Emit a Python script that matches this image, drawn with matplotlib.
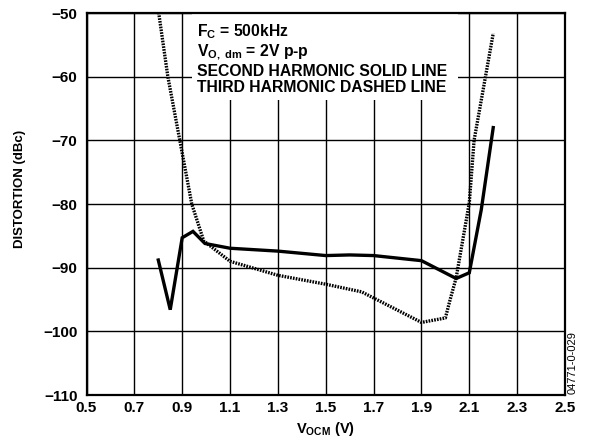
import matplotlib
matplotlib.use("Agg")
import matplotlib.pyplot as plt
from matplotlib.patches import Rectangle

plt.rcParams['font.family'] = ['Liberation Sans', 'DejaVu Sans']
plt.rcParams['mathtext.fontset'] = 'custom'
plt.rcParams['mathtext.rm'] = 'Liberation Sans:bold'
plt.rcParams['mathtext.it'] = 'Liberation Sans:bold'
plt.rcParams['mathtext.bf'] = 'Liberation Sans:bold'

# second harmonic (solid)
v_second = [0.80, 0.85, 0.90, 0.945, 0.995, 1.10, 1.30, 1.50, 1.60, 1.70, 1.90, 2.045, 2.10, 2.15, 2.20]
d_second = [-88.8, -96.6, -85.3, -84.3, -86.2, -86.95, -87.4, -88.1, -88.0, -88.1, -88.9, -91.7, -90.8, -80.9, -68.0]

# third harmonic (dashed)
v_third = [0.80, 0.84, 0.89, 0.94, 0.99, 1.10, 1.30, 1.50, 1.65, 1.90, 2.00, 2.02, 2.045, 2.10, 2.12, 2.20]
d_third = [-49.5, -60.0, -70.0, -80.0, -85.8, -89.0, -91.2, -92.6, -93.8, -98.6, -97.9, -95.0, -91.6, -79.8, -70.0, -53.2]

x_ticks = [0.5, 0.7, 0.9, 1.1, 1.3, 1.5, 1.7, 1.9, 2.1, 2.3, 2.5]
y_ticks = [-110, -100, -90, -80, -70, -60, -50]

fig = plt.figure(figsize=(5.92, 4.44), dpi=100)
ax = fig.add_axes([86.5 / 592, 1 - 395 / 444, (565 - 86.5) / 592, (395 - 13) / 444])

ax.set_xlim(0.5, 2.5)
ax.set_ylim(-110, -50)
ax.set_xticks(x_ticks)
ax.set_yticks(y_ticks)
ax.set_xticklabels([f"{t:.1f}" for t in x_ticks], fontweight='bold', fontsize=11)
ax.set_yticklabels([f"\u2212{abs(t)}" for t in y_ticks], fontweight='bold', fontsize=11)
ax.tick_params(axis='x', length=0, pad=4)
ax.tick_params(axis='y', length=0, pad=6.5)
ax.grid(True, color='black', linewidth=1.0)
ax.set_axisbelow(True)
for s in ax.spines.values():
    s.set_linewidth(1.6)

ax.plot(v_second, d_second, color='black', linewidth=2.4, solid_joinstyle='miter', zorder=3)
ax.plot(v_third, d_third, color='black', linewidth=2.4, linestyle=(0, (0.5, 0.35)), zorder=3)

# white patch behind the note, hides the grid
ax.add_patch(Rectangle((0.2205, 0.772), 0.556, 0.228, transform=ax.transAxes,
                       facecolor='white', edgecolor='none', zorder=1))
ax.text(0.962, -51.5,
        "F$_{C}$ = 500kHz\nV$_{O,\\ dm}$ = 2V p-p\nSECOND HARMONIC SOLID LINE\nTHIRD HARMONIC DASHED LINE",
        fontsize=11.3, fontweight='bold', va='top', ha='left', linespacing=1.12, zorder=2)

ax.set_xlabel("V$_{OCM}$ (V)", fontsize=10.5, fontweight='bold', labelpad=4)
fig.text(20 / 592, 1 - 188.5 / 444, "DISTORTION (dBc)", rotation=90, fontsize=9.5,
         fontweight='bold', ha='center', va='center')

fig.text(573 / 592, 1 - 363 / 444, "04771-0-029", rotation=90, fontsize=8,
         ha='center', va='center')

fig.savefig("out.png", dpi=100)
